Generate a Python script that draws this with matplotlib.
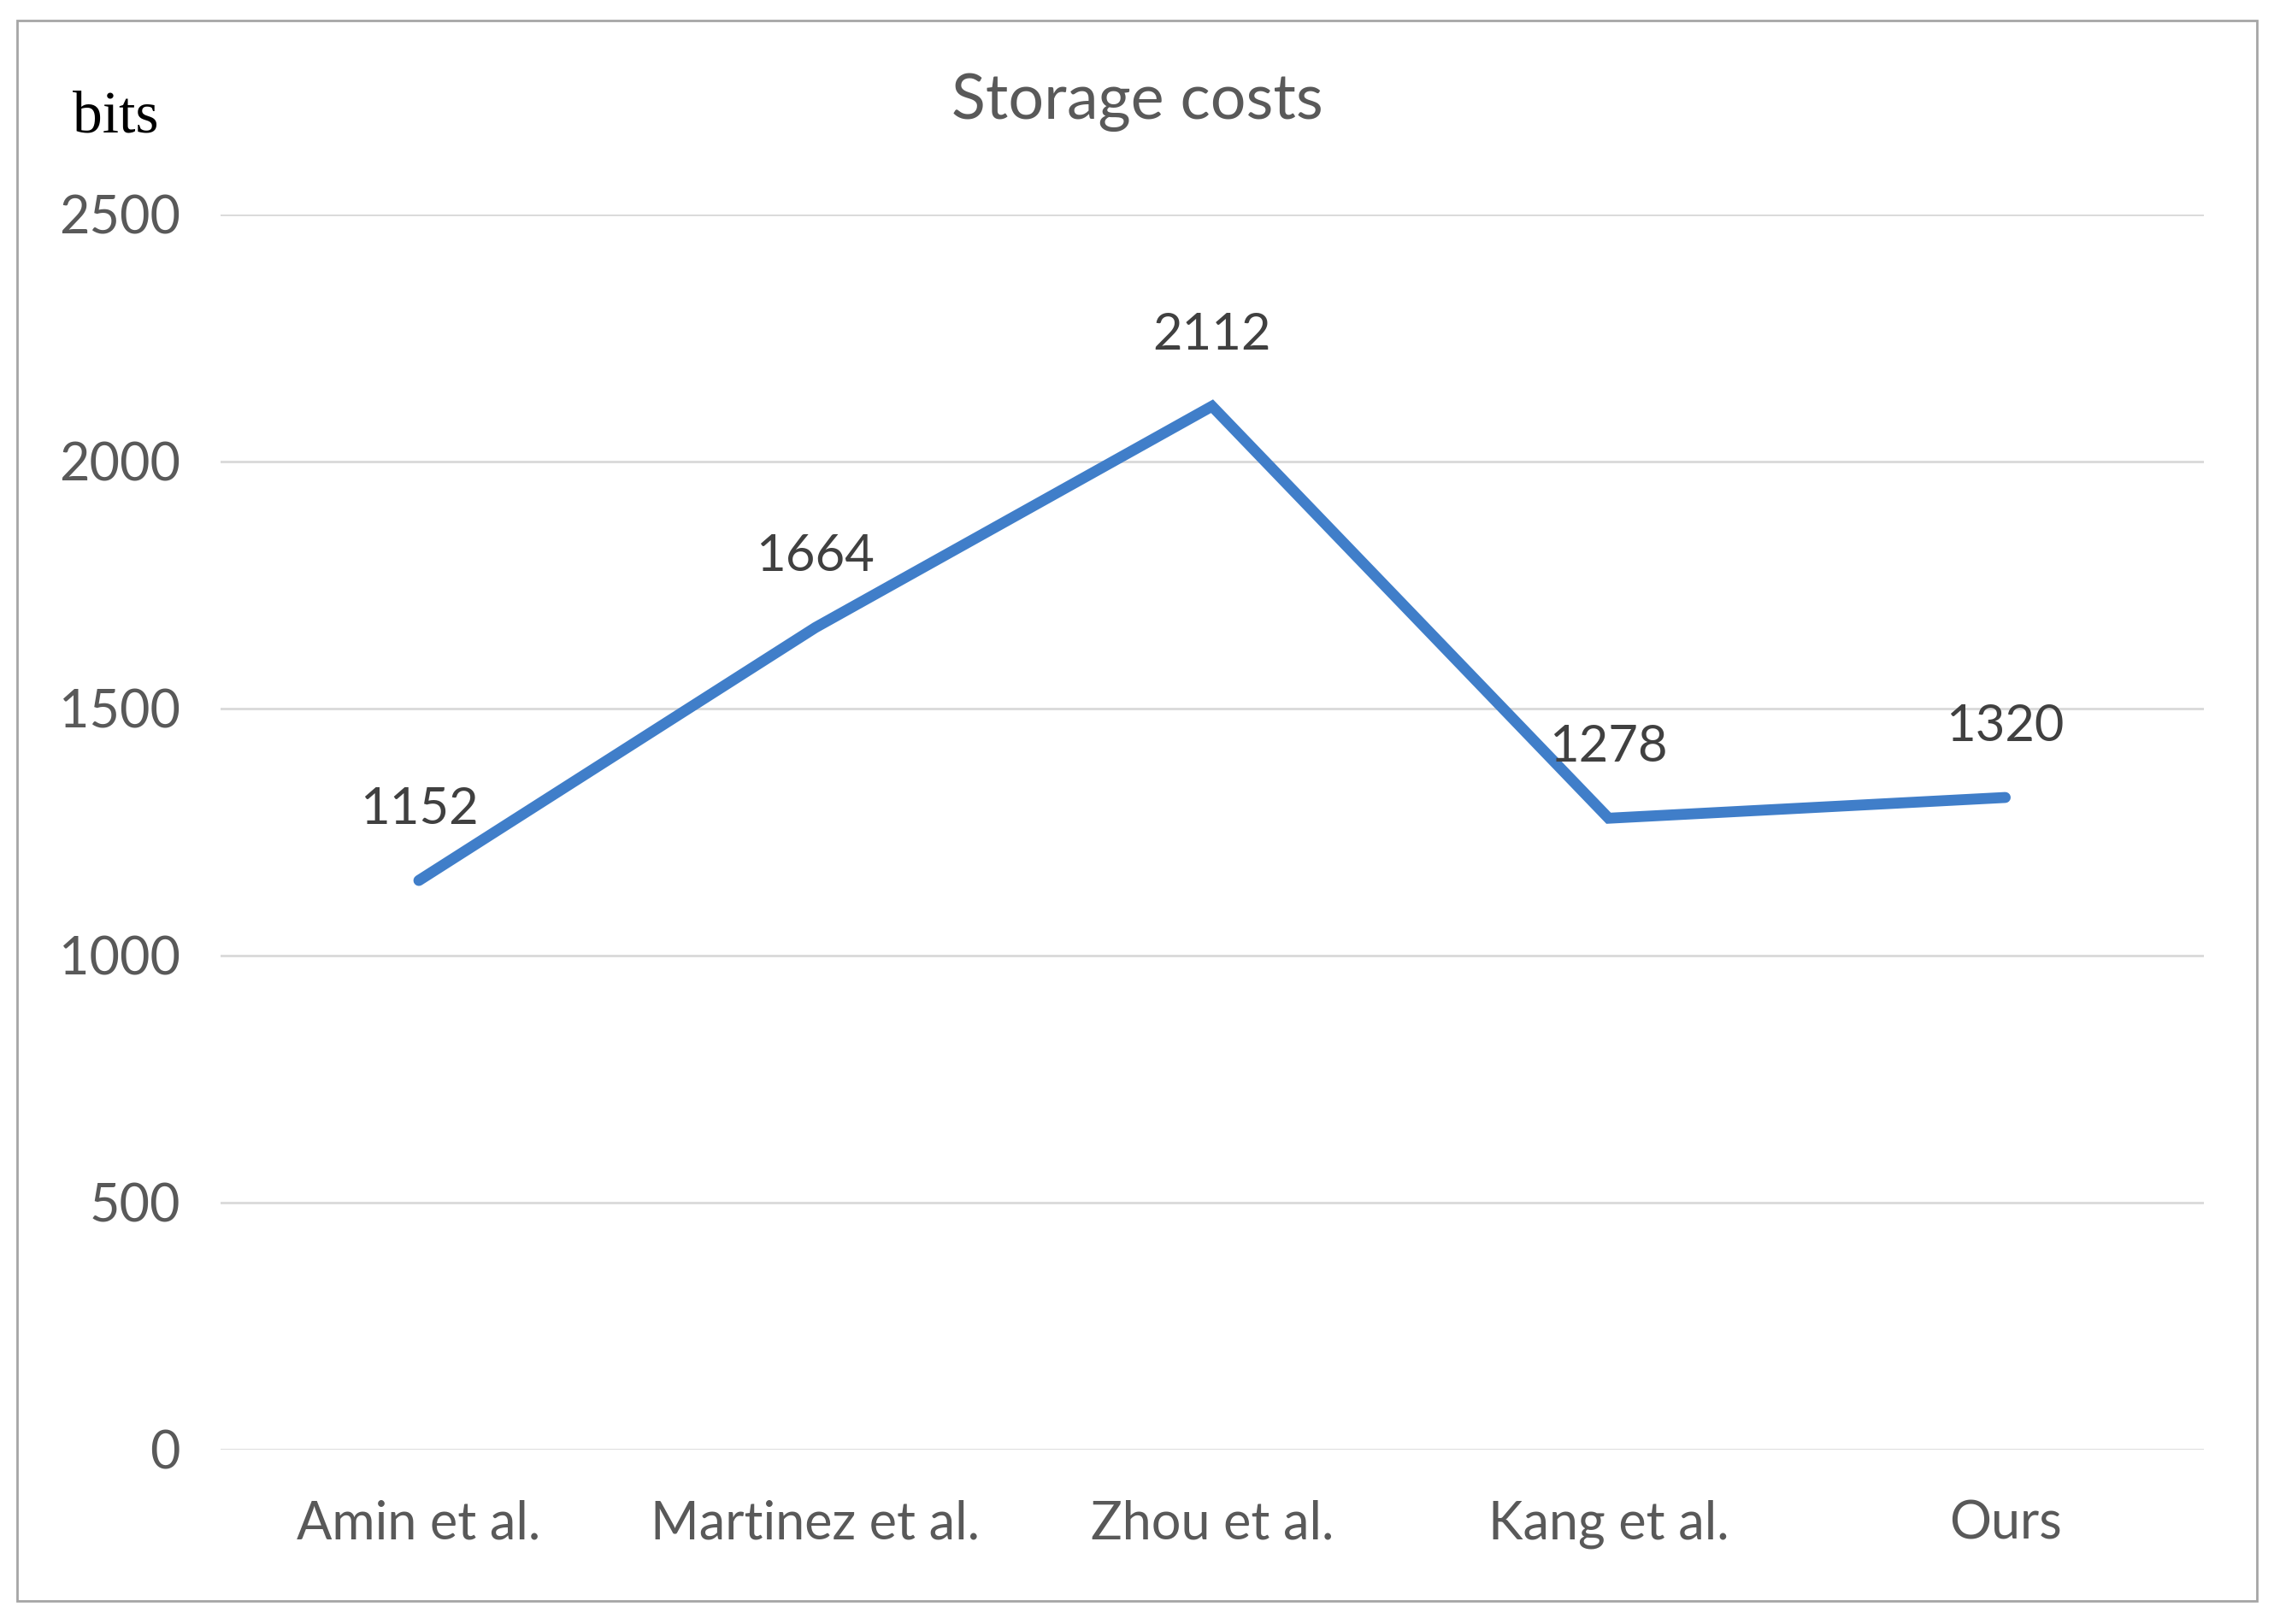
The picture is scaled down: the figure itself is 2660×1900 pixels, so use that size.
import matplotlib
matplotlib.use("Agg")
import matplotlib.pyplot as plt
from matplotlib.patches import Rectangle

# data
methods = ["Amin et al.", "Martinez et al.", "Zhou et al.", "Kang et al.", "Ours"]
storage_bits = [1152, 1664, 2112, 1278, 1320]
y_ticks = [0, 500, 1000, 1500, 2000, 2500]

LINE_BLUE = "#407ec9"
TEXT_GREY = "#595959"
GRID_GREY = "#d9d9d9"
FONT = ["Lato", "DejaVu Sans"]

fig = plt.figure(figsize=(13.3, 9.5), dpi=200)
ax = fig.add_axes([0.097, 0.1074, 0.872, 0.7605])

x = list(range(len(methods)))
ax.plot(x, storage_bits, color=LINE_BLUE, linewidth=4.6, solid_capstyle="round",
        solid_joinstyle="miter", zorder=3)

for xi, v in zip(x, storage_bits):
    ax.annotate(str(v), (xi, v), xytext=(0, 30), textcoords="offset points",
                ha="center", va="center", fontsize=21.5, color="#404040",
                family=FONT)

ax.set_xlim(-0.5, len(methods) - 0.5)
ax.set_ylim(0, 2500)
ax.set_yticks(y_ticks)
ax.set_yticklabels([str(t) for t in y_ticks], family=FONT, fontsize=22, color=TEXT_GREY)
ax.set_xticks(x)
ax.set_xticklabels(methods, family=FONT, fontsize=22, color=TEXT_GREY)
ax.tick_params(axis="y", length=0, pad=17)
ax.tick_params(axis="x", length=0, pad=21)
ax.grid(axis="y", color=GRID_GREY, linewidth=1.0)
ax.set_axisbelow(True)
for s in ax.spines.values():
    s.set_visible(False)

fig.text(0.5, 1 - 120 / 1900, "Storage costs", ha="center", va="center",
         fontsize=26.5, color=TEXT_GREY, family=FONT)
fig.text(85 / 2660, 1 - 138 / 1900, "bits", ha="left", va="center",
         fontsize=25, color="black", family=["Liberation Serif", "DejaVu Serif"])

# outer frame around the chart
fig.patches.append(Rectangle((20 / 2660, 1 - 1873 / 1900), (2640 - 20) / 2660,
                             (1873 - 24) / 1900, transform=fig.transFigure,
                             fill=False, edgecolor="#a6a6a6", linewidth=1.0))

fig.savefig("out.png", dpi=200, facecolor="white")
